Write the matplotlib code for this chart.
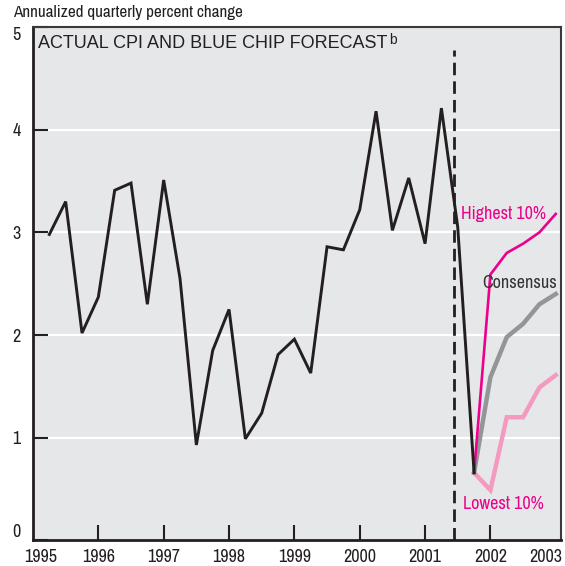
import numpy as np
import matplotlib
matplotlib.use('Agg')
import matplotlib.pyplot as plt
from matplotlib import font_manager as fm
from matplotlib.transforms import ScaledTranslation

# Actual CPI, annualized quarterly percent change, 1995Q1 - 2001Q3
actual_x = np.arange(1995.25, 2001.76, 0.25)
actual_cpi = [2.98, 3.30, 2.02, 2.37,
              3.41, 3.48, 2.30, 3.51,
              2.55, 0.93, 1.85, 2.25,
              0.99, 1.24, 1.81, 1.96,
              1.63, 2.86, 2.83, 3.22,
              4.18, 3.02, 3.53, 2.89,
              4.21, 3.05, 0.66]

# Blue Chip forecasts, starting from the last actual value
fcst_x = [2001.75, 2002.0, 2002.25, 2002.5, 2002.75, 2003.0]
highest = [0.66, 2.59, 2.80, 2.89, 3.00, 3.18]
consensus = [0.66, 1.59, 1.98, 2.11, 2.30, 2.40]
lowest = [0.66, 0.49, 1.20, 1.20, 1.49, 1.61]

years = list(range(1995, 2004))
y_ticks = [0, 1, 2, 3, 4, 5]
forecast_start = 2001.45

dark = '#231f20'
magenta = '#ec008c'
pink = '#f49ac1'
grey = '#939598'

# the original uses a condensed face; pick one if there is any
narrow_file = None
for f in fm.fontManager.ttflist:
    if f.style == 'normal' and f.weight in (400, 'normal', 'regular') \
            and f.stretch in ('condensed', 'semi-condensed', 'extra-condensed'):
        if narrow_file is None or 'DejaVu' in narrow_file:
            narrow_file = f.fname
if narrow_file:
    narrow = fm.FontProperties(fname=narrow_file)
    nsize = 13
else:
    narrow = fm.FontProperties(family='Liberation Sans')
    nsize = 11.5

fig = plt.figure(figsize=(5.65, 5.66), dpi=100)
ax = fig.add_axes([0.0584, 0.0451, 0.9345, 0.9072])
ax.set_facecolor('#e6e7e8')

for v in y_ticks[1:-1]:
    ax.axhline(v, color='white', lw=1.6, zorder=1)

ax.plot(fcst_x, lowest, color=pink, lw=3.2, zorder=3, solid_joinstyle='miter')
ax.plot(fcst_x, consensus, color=grey, lw=3.2, zorder=3, solid_joinstyle='miter')
ax.plot(fcst_x, highest, color=magenta, lw=1.9, zorder=3, solid_joinstyle='miter')
ax.plot(actual_x, actual_cpi, color=dark, lw=2.1, zorder=4, solid_joinstyle='miter')
ax.plot([forecast_start, forecast_start], [0, 4.78], color=dark, lw=2.0,
        linestyle=(0, (4.5, 2.2)), zorder=5)

ax.set_xlim(1995.0, 2003.08)
ax.set_ylim(0, 5)

ax.set_xticks(years)
ax.set_xticklabels([str(y) for y in years], fontproperties=narrow)
ax.tick_params(axis='x', direction='in', length=11, width=1.5, color=dark,
               pad=6, labelcolor=dark)
xticks = ax.xaxis.get_major_ticks()
xticks[0].tick1line.set_visible(False)
xticks[-1].tick1line.set_visible(False)
xticks[0].label1.set_transform(xticks[0].label1.get_transform()
                               + ScaledTranslation(8 / 100, 0, fig.dpi_scale_trans))
xticks[-1].label1.set_transform(xticks[-1].label1.get_transform()
                                + ScaledTranslation(-10 / 100, 0, fig.dpi_scale_trans))
for lab in ax.get_xticklabels():
    lab.set_fontsize(nsize)

ax.set_yticks(y_ticks)
ax.set_yticklabels([str(v) for v in y_ticks], fontproperties=narrow)
ax.tick_params(axis='y', direction='in', length=11, width=1.5, color=dark,
               pad=9, labelcolor=dark)
ylabels = ax.get_yticklabels()
for lab in ylabels:
    lab.set_fontsize(nsize)
ylabels[0].set_verticalalignment('bottom')
ylabels[-1].set_verticalalignment('top')

for side in ['left', 'bottom']:
    ax.spines[side].set_linewidth(2.0)
    ax.spines[side].set_color(dark)
for side in ['top', 'right']:
    ax.spines[side].set_linewidth(1.5)
    ax.spines[side].set_color('#3a3a3a')

t = ax.text(0.01, 0.985, 'ACTUAL CPI AND BLUE CHIP FORECAST', transform=ax.transAxes,
            ha='left', va='top', fontsize=13, color=dark, family='Liberation Sans')
ax.annotate('b', xy=(1.0, 1.0), xycoords=t, xytext=(1, 1), textcoords='offset points',
            ha='left', va='top', fontsize=10, color=dark, family='Liberation Sans')

for x, y, s, c in [(2002.85, 3.18, 'Highest 10%', magenta),
                   (2003.02, 2.51, 'Consensus', '#333333'),
                   (2002.82, 0.36, 'Lowest 10%', magenta)]:
    lab = ax.text(x, y, s, ha='right', va='center', color=c, fontproperties=narrow)
    lab.set_fontsize(nsize)

ylab = fig.text(13 / 565, 1 - 13 / 566, 'Annualized quarterly percent change',
                ha='left', va='center', color=dark, fontproperties=narrow)
ylab.set_fontsize(nsize - 0.7)

fig.savefig('out.png', dpi=100)
